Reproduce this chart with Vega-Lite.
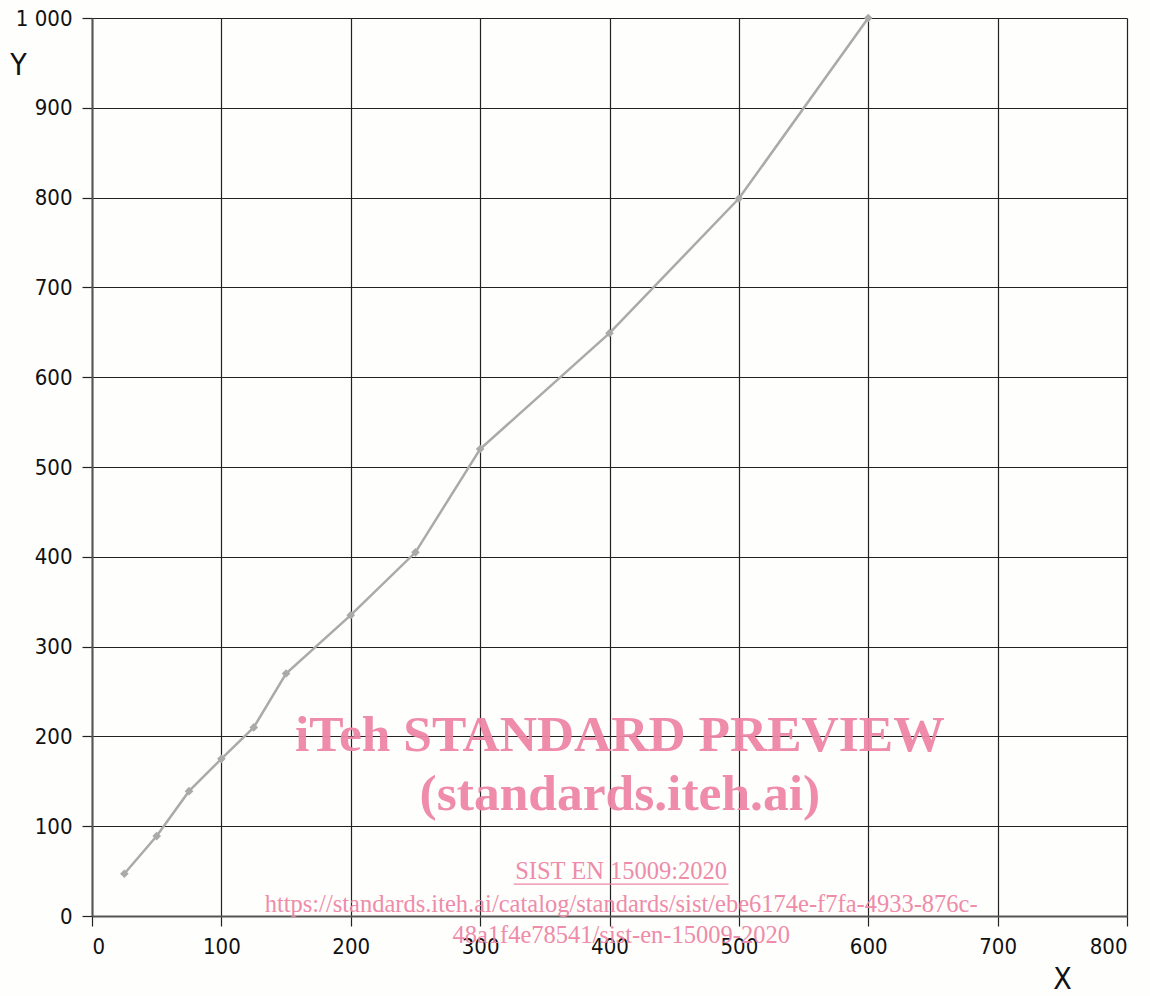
{
  "$schema": "https://vega.github.io/schema/vega-lite/v6.json",
  "width": 1035,
  "height": 898,
  "autosize": {"type": "none"},
  "padding": {"left": 92, "top": 18, "right": 23, "bottom": 80},
  "background": "#fefefc",
  "config": {
    "view": {"stroke": null},
    "axis": {
      "labelFont": "DejaVu Sans Condensed",
      "labelFontSize": 22,
      "labelColor": "#111111",
      "titleFont": "DejaVu Sans Condensed",
      "titleFontSize": 30,
      "titleFontWeight": "normal",
      "titleColor": "#111111",
      "gridColor": "#222222",
      "gridOpacity": 1,
      "gridWidth": 1.2,
      "tickColor": "#222222",
      "tickSize": 10,
      "tickWidth": 1.2,
      "domainColor": "#555555",
      "domainWidth": 2
    }
  },
  "datasets": {
    "series": [
      {"x": 25, "y": 47},
      {"x": 50, "y": 89},
      {"x": 75, "y": 139},
      {"x": 100, "y": 175},
      {"x": 125, "y": 210},
      {"x": 150, "y": 270},
      {"x": 200, "y": 335},
      {"x": 250, "y": 405},
      {"x": 300, "y": 520},
      {"x": 400, "y": 649},
      {"x": 500, "y": 799},
      {"x": 600, "y": 1000}
    ],
    "watermark": [
      {"x": 408, "y": 201, "t": "iTeh STANDARD PREVIEW", "kind": "big"},
      {"x": 408, "y": 135, "t": "(standards.iteh.ai)", "kind": "big"},
      {"x": 409, "y": 49, "t": "SIST EN 15009:2020", "kind": "small"},
      {"x": 409, "y": 12, "t": "https://standards.iteh.ai/catalog/standards/sist/ebe6174e-f7fa-4933-876c-", "kind": "small"},
      {"x": 409, "y": -22, "t": "48a1f4e78541/sist-en-15009-2020", "kind": "small"}
    ],
    "underline": [{"x1": 326, "x2": 492, "y": 35.5}]
  },
  "layer": [
    {
      "data": {"name": "series"},
      "mark": {"type": "line", "color": "#aaaaaa", "strokeWidth": 2.5, "clip": false},
      "encoding": {
        "x": {
          "field": "x", "type": "quantitative",
          "scale": {"domain": [0, 800], "nice": false},
          "axis": {
            "values": [0, 100, 200, 300, 400, 500, 600, 700, 800],
            "grid": true, "labelPadding": 10, "title": "X",
            "titleX": 970, "titleY": 63, "titleBaseline": "middle", "titleAlign": "center"
          }
        },
        "y": {
          "field": "y", "type": "quantitative",
          "scale": {"domain": [0, 1000], "nice": false},
          "axis": {
            "values": [0, 100, 200, 300, 400, 500, 600, 700, 800, 900, 1000],
            "grid": true, "labelPadding": 10,
            "labelExpr": "replace(datum.label, ',', ' ')",
            "title": "Y", "titleAngle": 0,
            "titleX": -74, "titleY": 47, "titleBaseline": "middle", "titleAlign": "center"
          }
        }
      }
    },
    {
      "data": {"name": "series"},
      "mark": {"type": "point", "shape": "diamond", "filled": true, "color": "#aaaaaa", "size": 75, "opacity": 1},
      "encoding": {
        "x": {"field": "x", "type": "quantitative"},
        "y": {"field": "y", "type": "quantitative"}
      }
    },
    {
      "data": {"name": "watermark"},
      "transform": [{"filter": "datum.kind === 'big'"}],
      "mark": {"type": "text", "font": "Liberation Serif", "fontSize": 51.5, "fontWeight": "bold", "color": "#ee86a6", "opacity": 0.95, "align": "center", "baseline": "middle"},
      "encoding": {
        "x": {"field": "x", "type": "quantitative"},
        "y": {"field": "y", "type": "quantitative"},
        "text": {"field": "t"}
      }
    },
    {
      "data": {"name": "watermark"},
      "transform": [{"filter": "datum.kind === 'small'"}],
      "mark": {"type": "text", "font": "Liberation Serif", "fontSize": 24.5, "color": "#ee86a6", "opacity": 0.95, "align": "center", "baseline": "middle"},
      "encoding": {
        "x": {"field": "x", "type": "quantitative"},
        "y": {"field": "y", "type": "quantitative"},
        "text": {"field": "t"}
      }
    },
    {
      "data": {"name": "underline"},
      "mark": {"type": "rule", "color": "#ee86a6", "strokeWidth": 1.2},
      "encoding": {
        "x": {"field": "x1", "type": "quantitative"},
        "x2": {"field": "x2"},
        "y": {"field": "y", "type": "quantitative"}
      }
    }
  ]
}
